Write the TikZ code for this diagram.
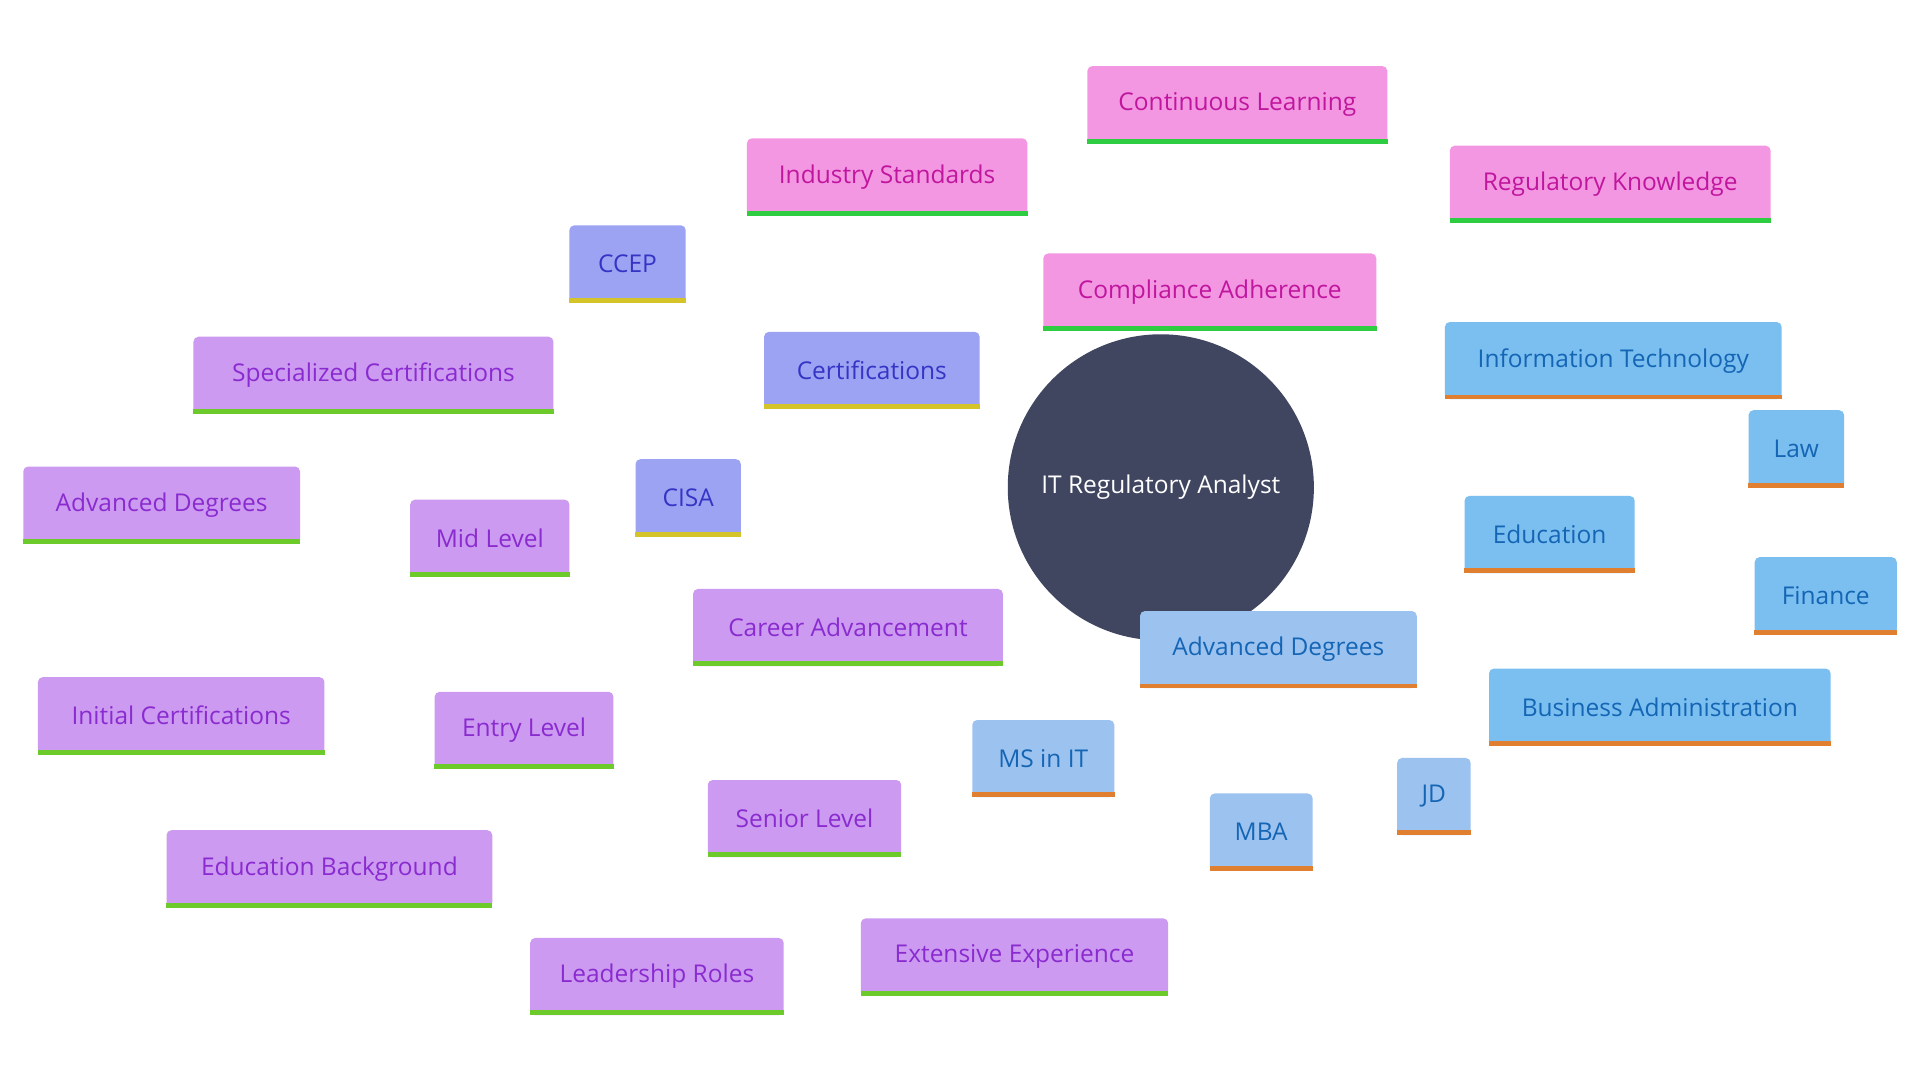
\documentclass[tikz,border=0pt]{standalone}
\usepackage{fontspec}
\setmainfont{Open Sans}
\usetikzlibrary{backgrounds}
\definecolor{hub}{HTML}{404660}
\definecolor{pkF}{HTML}{F397E2}\definecolor{pkT}{HTML}{C0169E}\definecolor{gb}{HTML}{2ECC40}
\definecolor{blF}{HTML}{9BA3F2}\definecolor{blT}{HTML}{3535C5}\definecolor{yb}{HTML}{D4C42A}
\definecolor{skF}{HTML}{7ABFF0}\definecolor{skT}{HTML}{1565B5}\definecolor{ob}{HTML}{E07F30}
\definecolor{lsF}{HTML}{9CC3F0}
\definecolor{puF}{HTML}{CC9AF0}\definecolor{puT}{HTML}{8A2BD0}\definecolor{lgb}{HTML}{6CCB2A}
\tikzset{
 bxs/.style={inner sep=0pt,rounded corners=4pt,font=\fontsize{20}{24}\selectfont},
 pk/.style={bxs,fill=pkF,text=pkT},
 bl/.style={bxs,fill=blF,text=blT},
 sk/.style={bxs,fill=skF,text=skT},
 ls/.style={bxs,fill=lsF,text=skT},
 pu/.style={bxs,fill=puF,text=puT},
 pkbar/.style={gb},blbar/.style={yb},skbar/.style={ob},lsbar/.style={ob},pubar/.style={lgb},
 pkln/.style={draw=pkF,line width=4pt},
 blln/.style={draw=blF,line width=4pt},
 skln/.style={draw=skF,line width=4pt},
 lsln/.style={draw=lsF,line width=4pt},
 puln/.style={draw=puF,line width=4pt},
}
\newcommand\bx[7]{%
 \node[#6,minimum width={(#4-#2)*1pt},minimum height={(#5-#3)*1pt}] (#1) at ({(#2+#4)/2},{(#3+#5)/2}) {#7};
 \draw[#6bar,line width=4pt] ([yshift=2pt]#1.south west) -- ([yshift=2pt]#1.south east);}
\begin{document}
\begin{tikzpicture}[x=1pt,y=-1pt]
\useasboundingbox[fill=white] (0,0) rectangle (1568,882);
\node[circle,fill=hub,minimum size=250pt,inner sep=0pt,text=white,font=\fontsize{20}{24}\selectfont] (c) at (948,398) {IT Regulatory Analyst};
\bx{ca}{852}{207}{1124}{270}{pk}{Compliance Adherence}
\bx{cl}{888}{54}{1133}{117}{pk}{Continuous Learning}
\bx{is}{610}{113}{839}{176}{pk}{Industry Standards}
\bx{rk}{1184}{119}{1446}{182}{pk}{Regulatory Knowledge}
\bx{ce}{624}{271}{800}{334}{bl}{Certifications}
\bx{ccep}{465}{184}{560}{247}{bl}{CCEP}
\bx{cisa}{519}{375}{605}{438}{bl}{CISA}
\bx{ed}{1196}{405}{1335}{468}{sk}{Education}
\bx{it}{1180}{263}{1455}{326}{sk}{Information Technology}
\bx{law}{1428}{335}{1506}{398}{sk}{Law}
\bx{fin}{1433}{455}{1549}{518}{sk}{Finance}
\bx{ba}{1216}{546}{1495}{609}{sk}{Business Administration}
\bx{ad}{931}{499}{1157}{562}{ls}{Advanced Degrees}
\bx{ms}{794}{588}{910}{651}{ls}{MS in IT}
\bx{mba}{988}{648}{1072}{711}{ls}{MBA}
\bx{jd}{1141}{619}{1201}{682}{ls}{JD}
\bx{car}{566}{481}{819}{544}{pu}{Career Advancement}
\bx{mid}{335}{408}{465}{471}{pu}{Mid Level}
\bx{spc}{158}{275}{452}{338}{pu}{Specialized Certifications}
\bx{adp}{19}{381}{245}{444}{pu}{Advanced Degrees}
\bx{ent}{355}{565}{501}{628}{pu}{Entry Level}
\bx{ini}{31}{553}{265}{616}{pu}{Initial Certifications}
\bx{eb}{136}{678}{402}{741}{pu}{Education Background}
\bx{sen}{578}{637}{736}{700}{pu}{Senior Level}
\bx{lr}{433}{766}{640}{829}{pu}{Leadership Roles}
\bx{ee}{703}{750}{954}{813}{pu}{Extensive Experience}
\begin{scope}[on background layer]
\draw[pkln] (c.center)--(ca.center) (ca.center)--(cl.center) (ca.center)--(is.center) (ca.center)--(rk.center);
\draw[blln] (c.center)--(ce.center) (ce.center)--(ccep.center) (ce.center)--(cisa.center);
\draw[skln] (c.center)--(ed.center) (ed.center)--(it.center) (ed.center)--(law.center) (ed.center)--(fin.center) (ed.center)--(ba.center);
\draw[lsln] (c.center)--(ad.center) (ad.center)--(ms.center) (ad.center)--(mba.center) (ad.center)--(jd.center);
\draw[puln] (c.center)--(car.center) (car.center)--(mid.center) (mid.center)--(spc.center) (mid.center)--(adp.center)
 (car.center)--(ent.center) (ent.center)--(ini.center) (ent.center)--(eb.center)
 (car.center)--(sen.center) (sen.center)--(lr.center) (sen.center)--(ee.center);
\end{scope}
\end{tikzpicture}
\end{document}
